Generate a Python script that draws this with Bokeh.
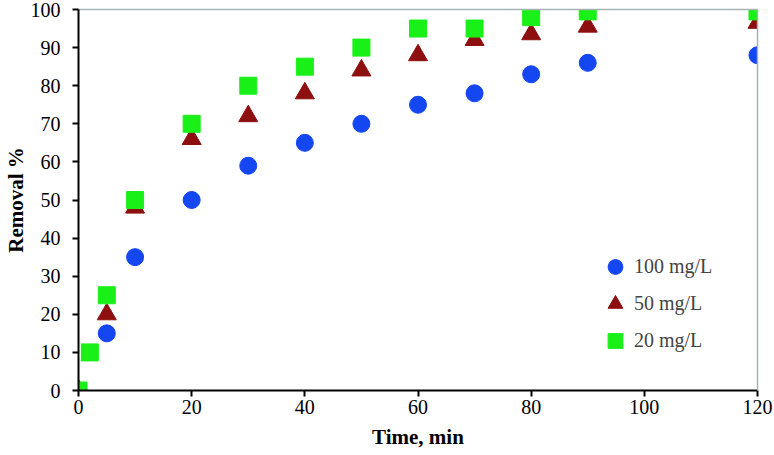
from bokeh.plotting import figure
from bokeh.models import Range1d, FixedTicker, Legend, LegendItem, LinearAxis
from bokeh.embed import file_html
from bokeh.resources import INLINE

time_min = [0, 5, 10, 20, 30, 40, 50, 60, 70, 80, 90, 120]
removal_100 = [0, 15, 35, 50, 59, 65, 70, 75, 78, 83, 86, 88]
removal_50 = [0, 20, 48, 66, 72, 78, 84, 88, 92, 93.5, 95.5, 96.5]
time_20 = [0, 2, 5, 10, 20, 30, 40, 50, 60, 70, 80, 90, 120]
removal_20 = [0, 10, 25, 50, 70, 80, 85, 90, 95, 95, 98, 99.5, 99.5]
x_ticks = [0, 20, 40, 60, 80, 100, 120]
y_ticks = [0, 10, 20, 30, 40, 50, 60, 70, 80, 90, 100]
labels = ["100 mg/L", "50 mg/L", "20 mg/L"]
x_title = "Time, min"
y_title = "Removal %"

FONT = "Liberation Serif"
GRAY = "#a5b3b5"

p = figure(width=774, height=455, output_backend="svg", toolbar_location=None,
           x_range=Range1d(0, 120), y_range=Range1d(0, 100),
           min_border_left=78, min_border_right=17, min_border_top=9, min_border_bottom=65)

p.xgrid.visible = False
p.ygrid.visible = False
p.outline_line_color = None
p.background_fill_color = "white"
p.border_fill_color = "white"

xax = p.below[0]
yax = p.left[0]
for ax in (xax, yax):
    ax.axis_line_color = "black"
    ax.axis_line_width = 2
    ax.major_tick_line_color = "black"
    ax.major_tick_line_width = 2
    ax.major_tick_out = 6
    ax.major_tick_in = 0
    ax.minor_tick_line_color = None
    ax.major_label_text_font = FONT
    ax.major_label_text_font_size = "20px"
    ax.major_label_text_color = "black"
    ax.axis_label_text_font = FONT
    ax.axis_label_text_font_size = "21px"
    ax.axis_label_text_font_style = "bold"
    ax.axis_label_text_color = "black"

xax.ticker = FixedTicker(ticks=x_ticks)
yax.ticker = FixedTicker(ticks=y_ticks)
xax.axis_label = x_title
yax.axis_label = y_title
xax.major_label_standoff = 3
xax.axis_label_standoff = 8
yax.major_label_standoff = 12
yax.axis_label_standoff = 0

# gray top and right frame lines
for side in ("above", "right"):
    ax = LinearAxis(ticker=FixedTicker(ticks=[]), axis_line_color=GRAY,
                    axis_line_width=1.5, major_tick_line_color=None,
                    minor_tick_line_color=None, major_label_text_font_size="0px",
                    major_tick_out=0, major_tick_in=0, minor_tick_out=0)
    p.add_layout(ax, side)

r1 = p.scatter(time_min, removal_100, marker="circle", size=17,
               fill_color="#1446f2", line_color="#1446f2")
r2 = p.scatter(time_min, removal_50, marker="triangle", size=19,
               fill_color="#8e0f0f", line_color="#8e0f0f")
r3 = p.scatter(time_20, removal_20, marker="square", size=17,
               fill_color="#18f018", line_color="#18f018")

legend = Legend(items=[LegendItem(label=labels[0], renderers=[r1]),
                       LegendItem(label=labels[1], renderers=[r2]),
                       LegendItem(label=labels[2], renderers=[r3])],
                location=(518, 31), padding=0, margin=0, spacing=0,
                glyph_width=38, glyph_height=37, label_standoff=0,
                label_text_font=FONT, label_text_font_size="20px",
                border_line_color=None, background_fill_alpha=0)
p.add_layout(legend)

open("out.html", "w").write(file_html(p, INLINE))
